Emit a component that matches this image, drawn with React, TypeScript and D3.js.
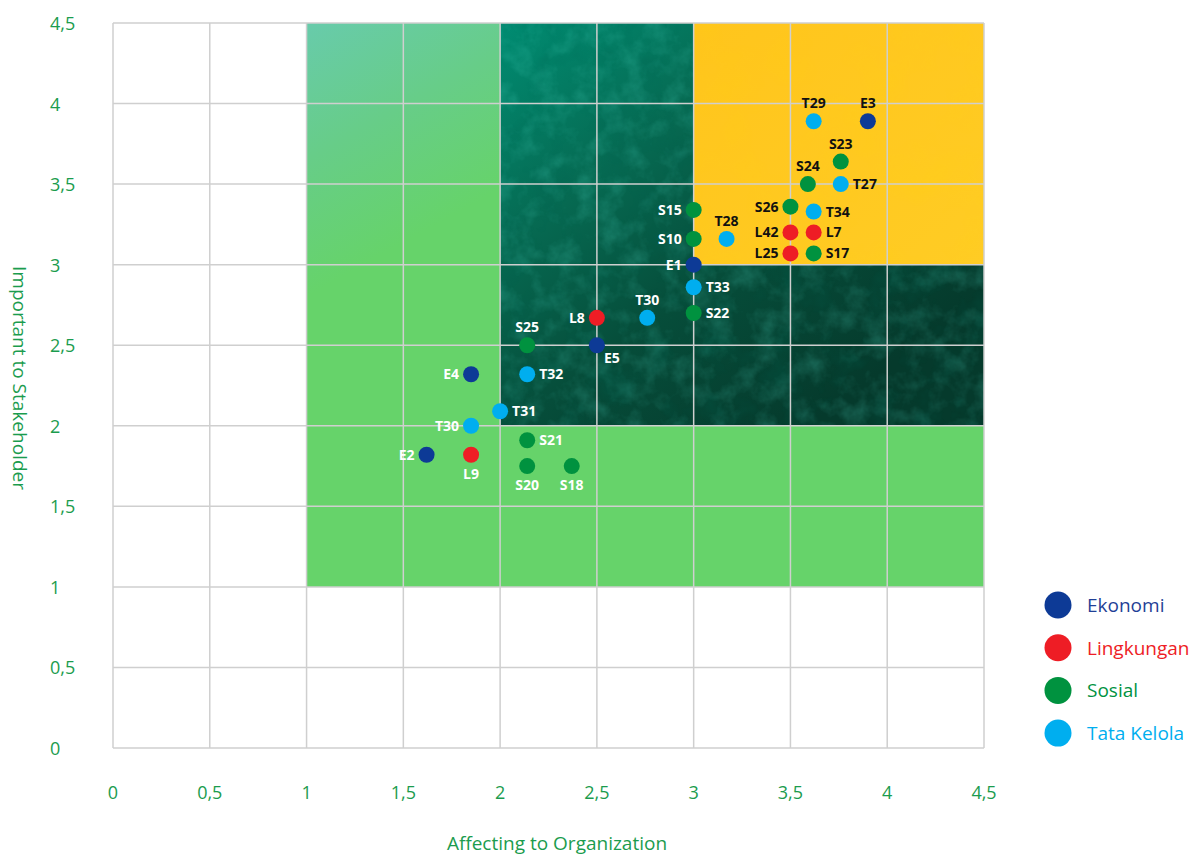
import React from "react";
import * as d3 from "d3";

const categories = ["Ekonomi", "Lingkungan", "Sosial", "Tata Kelola"];
const categoryColors = ["#0d3a96", "#ee1d25", "#00923f", "#00aeef"];
const legendTextColors = ["#1f3f96", "#ee1d25", "#00923f", "#00aeef"];

const pointNames = ["T29","E3","S23","S24","T27","S26","T34","L42","L7","L25","S17","S15","S10","T28","E1","T33","S22","T30","L8","E5","S25","T32","E4","T31","T30","E2","L9","S21","S20","S18"];
const pointCategory = [3,0,2,2,3,2,3,1,1,1,2,2,2,3,0,3,2,3,1,0,2,3,0,3,3,0,1,2,2,2];
const affecting = [3.62,3.9,3.76,3.59,3.76,3.5,3.62,3.5,3.62,3.5,3.62,3.0,3.0,3.17,3.0,3.0,3.0,2.76,2.5,2.5,2.14,2.14,1.85,2.0,1.85,1.62,1.85,2.14,2.14,2.37];
const important = [3.89,3.89,3.64,3.5,3.5,3.36,3.33,3.2,3.2,3.07,3.07,3.34,3.16,3.16,3.0,2.86,2.7,2.67,2.67,2.5,2.5,2.32,2.32,2.09,2.0,1.82,1.82,1.91,1.75,1.75];
const labelSide = ["t","t","t","t","r","l","r","l","r","l","r","l","l","t","l","r","r","t","l","br","t","r","l","r","l","l","b","r","b","b"];

const xTicks = [0,0.5,1,1.5,2,2.5,3,3.5,4,4.5];
const yTicks = [0,0.5,1,1.5,2,2.5,3,3.5,4,4.5];
const fmt = (v: number) => String(v).replace(".", ",");

export default function App() {
  const x = d3.scaleLinear().domain([0, 4.5]).range([113, 984]);
  const y = d3.scaleLinear().domain([0, 4.5]).range([748, 23]);
  const r = 8;

  const darkPath = `M${x(2)},${y(4.5)} L${x(3)},${y(4.5)} L${x(3)},${y(3)} L${x(4.5)},${y(3)} L${x(4.5)},${y(2)} L${x(2)},${y(2)} Z`;
  const lightPath = `M${x(1)},${y(4.5)} L${x(2)},${y(4.5)} L${x(2)},${y(2)} L${x(4.5)},${y(2)} L${x(4.5)},${y(1)} L${x(1)},${y(1)} Z`;

  const labelPos = (i: number) => {
    const cx = x(affecting[i]);
    const cy = y(important[i]);
    const s = labelSide[i];
    if (s === "t") return { tx: cx, ty: cy - 13, anchor: "middle" };
    if (s === "b") return { tx: cx, ty: cy + 24, anchor: "middle" };
    if (s === "l") return { tx: cx - 12, ty: cy + 5, anchor: "end" };
    if (s === "r") return { tx: cx + 12, ty: cy + 5, anchor: "start" };
    return { tx: cx + 15, ty: cy + 18, anchor: "middle" };
  };

  const inYellow = (i: number) => affecting[i] > 3.05 && important[i] > 3.0;

  return (
    <svg width={1199} height={857} style={{ position: "absolute", left: 0, top: 0 }} fontFamily="'Open Sans', sans-serif">
      <defs>
        <linearGradient id="darkGrad" gradientUnits="userSpaceOnUse" x1={x(2)} y1={y(4.5)} x2={x(3.6)} y2={y(2)}>
          <stop offset="0" stopColor="#008c72" />
          <stop offset="0.35" stopColor="#066a52" />
          <stop offset="0.65" stopColor="#064d3a" />
          <stop offset="1" stopColor="#053a2c" />
        </linearGradient>
        <linearGradient id="lightGrad" gradientUnits="userSpaceOnUse" x1={x(1)} y1={y(4.5)} x2={x(1.6)} y2={y(3.2)}>
          <stop offset="0" stopColor="#68cbab" />
          <stop offset="0.5" stopColor="#67cd88" />
          <stop offset="1" stopColor="#66d36a" />
        </linearGradient>
        <linearGradient id="yellowGrad" x1="0" y1="0" x2="1" y2="1">
          <stop offset="0" stopColor="#ffc51c" />
          <stop offset="1" stopColor="#ffcc24" />
        </linearGradient>
        <filter id="texture" x="0" y="0" width="100%" height="100%">
          <feTurbulence type="fractalNoise" baseFrequency="0.045" numOctaves="4" seed="3" result="noise" />
          <feColorMatrix in="noise" type="matrix" values="0 0 0 0 0.1  0 0 0 0 0.8  0 0 0 0 0.65  0 0 0 1.4 -0.6" result="light" />
          <feComposite in="light" in2="SourceGraphic" operator="in" />
        </filter>
        <filter id="texture2" x="0" y="0" width="100%" height="100%">
          <feTurbulence type="fractalNoise" baseFrequency="0.03" numOctaves="4" seed="9" result="noise" />
          <feColorMatrix in="noise" type="matrix" values="0 0 0 0 0  0 0 0 0 0.12  0 0 0 0 0.08  -1.6 0 0 0 0.8" result="dark" />
          <feComposite in="dark" in2="SourceGraphic" operator="in" />
        </filter>
        <filter id="texture3" x="0" y="0" width="100%" height="100%">
          <feTurbulence type="fractalNoise" baseFrequency="0.02" numOctaves="3" seed="5" result="noise" />
          <feColorMatrix in="noise" type="matrix" values="0 0 0 0 1  0 0 0 0 0.7  0 0 0 0 0  0 0 0 1.2 -0.55" result="o" />
          <feComposite in="o" in2="SourceGraphic" operator="in" />
        </filter>
      </defs>

      {/* background regions */}
      <path d={lightPath} fill="url(#lightGrad)" />
      <path d={darkPath} fill="url(#darkGrad)" />
      <path d={darkPath} fill="#000" filter="url(#texture)" opacity={0.3} />
      <path d={darkPath} fill="#000" filter="url(#texture2)" opacity={0.4} />
      <rect x={x(3)} y={y(4.5)} width={x(4.5) - x(3)} height={y(3) - y(4.5)} fill="url(#yellowGrad)" />
      <rect x={x(3)} y={y(4.5)} width={x(4.5) - x(3)} height={y(3) - y(4.5)} fill="#000" filter="url(#texture3)" opacity={0.25} />

      {/* grid */}
      {xTicks.map((t) => (
        <line key={"gx" + t} x1={x(t)} x2={x(t)} y1={y(0)} y2={y(4.5)} stroke="#cfcfcf" strokeWidth={1.5} />
      ))}
      {yTicks.map((t) => (
        <line key={"gy" + t} x1={x(0)} x2={x(4.5)} y1={y(t)} y2={y(t)} stroke="#cfcfcf" strokeWidth={1.5} />
      ))}

      {/* tick labels */}
      {xTicks.map((t) => (
        <text key={"tx" + t} x={x(t)} y={799} textAnchor="middle" fontSize={18} fill="#1b9c4e">{fmt(t)}</text>
      ))}
      {yTicks.map((t) => (
        <text key={"ty" + t} x={50} y={y(t) + 7} textAnchor="start" fontSize={18} fill="#1b9c4e">{fmt(t)}</text>
      ))}

      {/* axis titles */}
      <text x={557} y={850} textAnchor="middle" fontSize={19} fill="#1b9c4e">Affecting to Organization</text>
      <text transform={`translate(13,378) rotate(90)`} textAnchor="middle" fontSize={19} fill="#1b9c4e">Important to Stakeholder</text>

      {/* points */}
      {pointNames.map((n, i) => (
        <circle key={"p" + i} cx={x(affecting[i])} cy={y(important[i])} r={r} fill={categoryColors[pointCategory[i]]} />
      ))}
      {pointNames.map((n, i) => {
        const p = labelPos(i);
        return (
          <text key={"l" + i} x={p.tx} y={p.ty} textAnchor={p.anchor as any} fontSize={14} fontWeight={700}
            fill={inYellow(i) ? "#111" : "#ffffff"}>{n}</text>
        );
      })}

      {/* legend */}
      {categories.map((c, i) => (
        <g key={"lg" + c} transform={`translate(1058,${605 + i * 42.7})`}>
          <circle r={13.5} fill={categoryColors[i]} />
          <text x={29} y={7} fontSize={19} fill={legendTextColors[i]}>{c}</text>
        </g>
      ))}
    </svg>
  );
}
